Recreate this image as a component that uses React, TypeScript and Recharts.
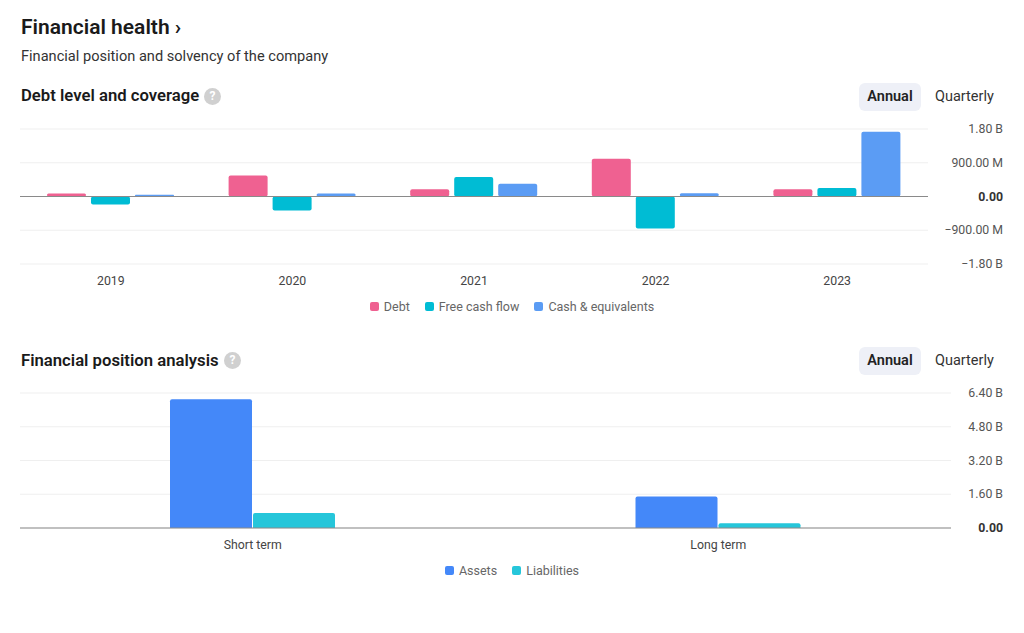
import React from "react";
import {
  BarChart,
  Bar,
  XAxis,
  YAxis,
  CartesianGrid,
  ReferenceLine,
  Legend,
} from "recharts";

const years = ["2019", "2020", "2021", "2022", "2023"];
const debt = [0.08e9, 0.56e9, 0.195e9, 1.01e9, 0.195e9];
const freeCashFlow = [-0.21e9, -0.37e9, 0.52e9, -0.85e9, 0.23e9];
const cashEquivalents = [0.045e9, 0.08e9, 0.34e9, 0.09e9, 1.73e9];
const debtTicks = [-1.8e9, -0.9e9, 0, 0.9e9, 1.8e9];
const debtSeries = ["Debt", "Free cash flow", "Cash & equivalents"];

const terms = ["Short term", "Long term"];
const assets = [6.1e9, 1.49e9];
const liabilities = [0.71e9, 0.22e9];
const positionTicks = [0, 1.6e9, 3.2e9, 4.8e9, 6.4e9];
const positionSeries = ["Assets", "Liabilities"];

const debtData = years.map((y, i) => ({
  name: y,
  debt: debt[i],
  fcf: freeCashFlow[i],
  cash: cashEquivalents[i],
}));
const positionData = terms.map((t, i) => ({
  name: t,
  assets: assets[i],
  liabilities: liabilities[i],
}));

const FONT = "Roboto, 'Noto Sans', Arial, sans-serif";

function fmt(v: number): string {
  if (v === 0) return "0.00";
  const sign = v < 0 ? "\u2212" : "";
  const a = Math.abs(v);
  if (a >= 1e9) return sign + (a / 1e9).toFixed(2) + " B";
  return sign + (a / 1e6).toFixed(2) + " M";
}

const RightTick = (props: any) => {
  const { y, payload, rightEdge } = props;
  const isZero = payload.value === 0;
  return (
    <text
      x={rightEdge}
      y={y}
      dy={4}
      textAnchor="end"
      fontSize={12.3}
      fontFamily={FONT}
      fontWeight={isZero ? 700 : 400}
      fill={isZero ? "#333" : "#555"}
    >
      {fmt(payload.value)}
    </text>
  );
};

const LegendContent = (props: any) => {
  const { payload, order } = props;
  const items = [...(payload || [])].sort(
    (a: any, b: any) => order.indexOf(a.value) - order.indexOf(b.value)
  );
  return (
    <div
      style={{
        display: "flex",
        justifyContent: "center",
        alignItems: "center",
        gap: 15,
        fontFamily: FONT,
        fontSize: 12.5,
        color: "#666",
        height: 24,
      }}
    >
      {items.map((p: any) => (
        <div key={p.value} style={{ display: "flex", alignItems: "center" }}>
          <span
            style={{
              display: "inline-block",
              width: 9,
              height: 9,
              borderRadius: 2,
              background: p.color,
              marginRight: 5,
            }}
          />
          <span>{p.value}</span>
        </div>
      ))}
    </div>
  );
};

const Help = ({ left, top }: { left: number; top: number }) => (
  <div
    style={{
      position: "absolute",
      left,
      top,
      width: 17,
      height: 17,
      borderRadius: "50%",
      background: "#d0d0d0",
      color: "#fff",
      fontSize: 12,
      fontWeight: 700,
      textAlign: "center",
      lineHeight: "17px",
      fontFamily: FONT,
    }}
  >
    ?
  </div>
);

const Toggle = ({ top }: { top: number }) => (
  <>
    <div
      style={{
        position: "absolute",
        left: 859,
        top,
        width: 62,
        height: 28,
        borderRadius: 6,
        background: "#eef0f7",
        color: "#222",
        fontWeight: 600,
        fontSize: 14.5,
        lineHeight: "28px",
        textAlign: "center",
        fontFamily: FONT,
      }}
    >
      Annual
    </div>
    <div
      style={{
        position: "absolute",
        left: 935,
        top,
        height: 28,
        color: "#333",
        fontSize: 14.5,
        lineHeight: "28px",
        fontFamily: FONT,
      }}
    >
      Quarterly
    </div>
  </>
);

export default function App() {
  return (
    <div
      style={{
        position: "absolute",
        left: 0,
        top: 0,
        width: 1024,
        height: 633,
        background: "#fff",
        fontFamily: FONT,
        overflow: "hidden",
      }}
    >
      <div
        style={{
          position: "absolute",
          left: 21,
          top: 14,
          fontSize: 21,
          fontWeight: 600,
          color: "#1a1a1a",
          lineHeight: "26px",
        }}
      >
        Financial health ›
      </div>
      <div
        style={{
          position: "absolute",
          left: 21,
          top: 47,
          fontSize: 14.6,
          color: "#333",
          lineHeight: "18px",
        }}
      >
        Financial position and solvency of the company
      </div>

      <div
        style={{
          position: "absolute",
          left: 21,
          top: 86,
          fontSize: 16.7,
          fontWeight: 600,
          color: "#1a1a1a",
          lineHeight: "20px",
        }}
      >
        Debt level and coverage
      </div>
      <Help left={204} top={88} />
      <Toggle top={83} />

      <div style={{ position: "absolute", left: 0, top: 110 }}>
        <BarChart
          width={1024}
          height={212}
          data={debtData}
          margin={{ top: 19, right: 20, bottom: 4, left: 20 }}
          barSize={39}
          barGap={5}
        >
          <CartesianGrid vertical={false} stroke="#efefef" />
          <XAxis
            dataKey="name"
            axisLine={false}
            tickLine={false}
            tickMargin={6}
            height={30}
            tick={{ fontSize: 12.3, fill: "#444", fontFamily: FONT }}
          />
          <YAxis
            orientation="right"
            width={76}
            domain={[-1.8e9, 1.8e9]}
            ticks={debtTicks}
            axisLine={false}
            tickLine={false}
            tick={<RightTick rightEdge={1003} />}
          />
          <ReferenceLine y={0} stroke="#8a8a8a" strokeWidth={1.2} />
          <Legend
            verticalAlign="bottom"
            height={24}
            content={<LegendContent order={debtSeries} />}
          />
          <Bar dataKey="debt" name={debtSeries[0]} fill="#ef6191" radius={2} isAnimationActive={false} />
          <Bar dataKey="fcf" name={debtSeries[1]} fill="#00bcd4" radius={2} isAnimationActive={false} />
          <Bar dataKey="cash" name={debtSeries[2]} fill="#5b9cf4" radius={2} isAnimationActive={false} />
        </BarChart>
      </div>

      <div
        style={{
          position: "absolute",
          left: 21,
          top: 351,
          fontSize: 16.7,
          fontWeight: 600,
          color: "#1a1a1a",
          lineHeight: "20px",
        }}
      >
        Financial position analysis
      </div>
      <Help left={224} top={352} />
      <Toggle top={347} />

      <div style={{ position: "absolute", left: 0, top: 375 }}>
        <BarChart
          width={1024}
          height={211}
          data={positionData}
          margin={{ top: 18, right: 20, bottom: 4, left: 20 }}
          barSize={82}
          barGap={1}
        >
          <CartesianGrid vertical={false} stroke="#efefef" />
          <XAxis
            dataKey="name"
            axisLine={{ stroke: "#8a8a8a", strokeWidth: 1.2 }}
            tickLine={false}
            tickMargin={6}
            height={30}
            tick={{ fontSize: 12.3, fill: "#444", fontFamily: FONT }}
          />
          <YAxis
            orientation="right"
            width={53}
            domain={[0, 6.4e9]}
            ticks={positionTicks}
            axisLine={false}
            tickLine={false}
            tick={<RightTick rightEdge={1003} />}
          />
          <Legend
            verticalAlign="bottom"
            height={24}
            content={<LegendContent order={positionSeries} />}
          />
          <Bar dataKey="assets" name={positionSeries[0]} fill="#4488f9" radius={[2, 2, 0, 0]} isAnimationActive={false} />
          <Bar dataKey="liabilities" name={positionSeries[1]} fill="#26c6da" radius={[2, 2, 0, 0]} isAnimationActive={false} />
        </BarChart>
      </div>
    </div>
  );
}
